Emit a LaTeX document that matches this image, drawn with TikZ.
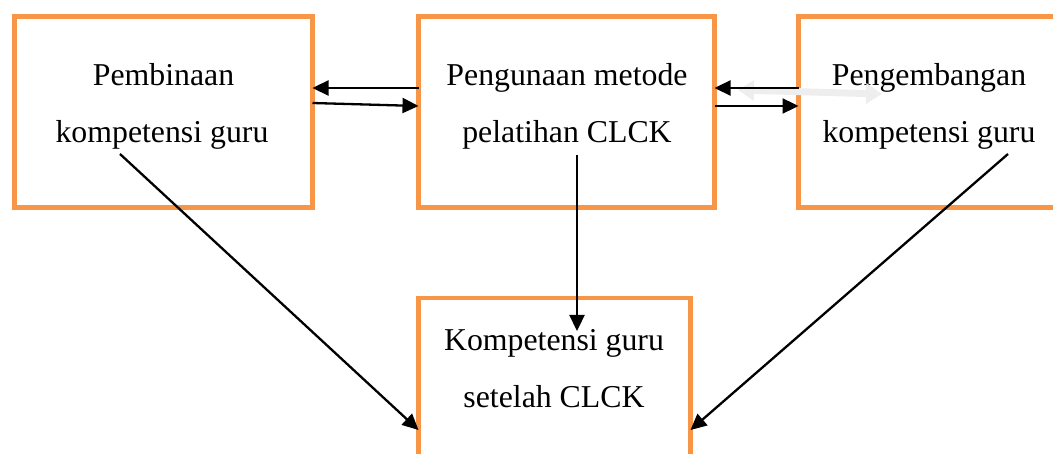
\documentclass[tikz,border=0pt]{standalone}
\usepackage{fontspec}
\setmainfont{Liberation Serif}
\usetikzlibrary{arrows.meta}
\definecolor{boxorange}{HTML}{F79646}
\definecolor{faintgray}{RGB}{238,238,238}
\begin{document}
\begin{tikzpicture}[x=1pt,y=-1pt,
  box/.style={draw=boxorange,line width=4.6pt,rectangle,outer sep=0pt,inner sep=0pt,fill=none},
  lbl/.style={anchor=base,inner sep=0pt,font=\fontsize{31.8}{38}\selectfont},
  arr/.style={line width=2.3pt,-{Triangle[length=16pt,width=15pt]}},
  ln/.style={line width=2pt}]
\useasboundingbox (0,0) rectangle (1053,454);
\clip (0,0) rectangle (1053,454);
% boxes
\node[box,minimum width=298pt,minimum height=191pt] (L) at (163.5,112) {};
\node[box,minimum width=296pt,minimum height=191pt] (M) at (566.5,112) {};
\node[box,minimum width=270pt,minimum height=191pt] (R) at (933.5,112) {};
\node[box,minimum width=272pt,minimum height=180pt] (B) at (554.5,388) {};
% labels
\node[lbl] (L1) at (163.5,86) {Pembinaan};
\node[lbl] (L2) at (162,143) {kompetensi guru};
\node[lbl] (M1) at (567,86) {Pengunaan metode};
\node[lbl] (M2) at (567,143) {pelatihan CLCK};
\node[lbl] (R1) at (929,86) {Pengembangan};
\node[lbl] (R2) at (929,143) {kompetensi guru};
\node[lbl] (B1) at (554,351) {Kompetensi guru};
\node[lbl] (B2) at (554,408) {setelah CLCK};
% faint double arrow
\coordinate (fa) at (738,90);
\coordinate (fb) at (882,94);
\draw[faintgray,line width=7pt,{Triangle[length=16pt,width=20pt]}-{Triangle[length=16pt,width=20pt]}] (fa) -- (fb);
% horizontal arrows
\draw[arr] ([yshift=24pt]M.west) -- ([yshift=24pt]L.east);
\draw[arr] ([yshift=9pt]L.east) -- ([yshift=6pt]M.west);
\draw[arr] ([yshift=24pt]R.west) -- ([yshift=24pt]M.east);
\draw[arr] ([yshift=6pt]M.east) -- ([yshift=6pt]R.west);
% vertical arrow
\coordinate (vs) at (577,155);
\coordinate (vt) at (577,331);
\draw[arr] (vs) -- (vt);
% diagonals
\coordinate (ls) at (120,154);
\coordinate (rs) at (1008,154);
\draw[arr] (ls) -- ([yshift=-42pt]B.west);
\draw[arr] (rs) -- ([yshift=-42pt]B.east);
\end{tikzpicture}
\end{document}
